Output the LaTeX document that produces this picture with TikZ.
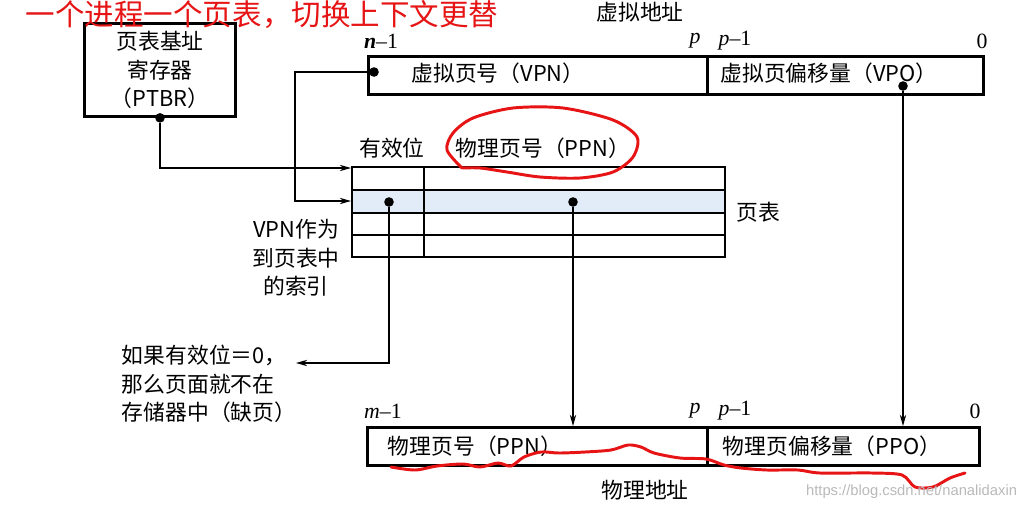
\documentclass[tikz,border=0pt]{standalone}
\usepackage{fontspec}
\setmainfont{Liberation Serif}
\newfontfamily\cjk{Noto Sans CJK SC}
\newfontfamily\wmfont{Liberation Sans}
\usetikzlibrary{arrows.meta}
\definecolor{rowblue}{RGB}{226,236,248}
\definecolor{penred}{RGB}{230,20,20}
\begin{document}
\begin{tikzpicture}[x=0.025cm,y=-0.025cm,
  every node/.style={font=\cjk\fontsize{15.5}{20.2}\selectfont},
  field/.style={draw,line width=1.9pt,inner sep=0,anchor=north west,minimum height=0.96cm},
  bitno/.style={font=\rmfamily\fontsize{15.5}{18}\selectfont},
  dot/.style={circle,fill,inner sep=0,minimum size=0.24cm},
  arr/.style={line width=1pt,-{Stealth[length=8pt,width=4.5pt]}},
  frame/.style={line width=1.9pt},
  redpen/.style={draw=penred,line width=2.1pt,line cap=round,line join=round}]
\useasboundingbox (0,0) rectangle (1029,509);

\node[draw,line width=1.9pt,minimum width=3.775cm,minimum height=2.325cm,align=center] (ptbr) at (160,70) {页表基址\\寄存器\\（PTBR）};
\node[dot] (ptbrdot) at (ptbr.south) {};

\node (valabel) at (640,12) {虚拟地址};
\node[bitno] (vahi) at (381,41) {\textbf{\textit{n}}–1};
\node[bitno] (vap) at (695,41) {\textit{p}};
\node[bitno] (vapm) at (735,41) {\textit{p}–1};
\node[bitno] (valo) at (982,41) {0};
\node[field,minimum width=8.475cm] (vpnbox) at (367,55) {};
\node[field,minimum width=6.9cm] (vpobox) at (706,55) {};
\node (vpn) at (498,73) {虚拟页号（VPN）};
\node (vpo) at (829,73) {虚拟页偏移量（VPO）};
\node[dot] (vpndot) at (374,72) {};
\node[dot] (vpodot) at (903,86) {};

\fill[rowblue] (352,190) rectangle (725,213);
\draw[frame] (352,167) rectangle (725,257);
\foreach \y in {190,213,235}
  \draw[frame] (352,\y) -- (725,\y);
\draw[frame] (424,167) -- (424,257);
\node (validhead) at (392,148) {有效位};
\node (ppnhead) at (543,148) {物理页号（PPN）};
\node (ptlabel) at (758,212) {页表};
\coordinate (pte0) at (351,168);
\coordinate (pte1) at (351,201);
\node[dot] (validdot) at (389,202) {};
\node[dot] (ppndot) at (573,202) {};

\node[align=center] (vpnidx) at (296,258) {VPN作为\\到页表中\\的索引};
\node[align=left,anchor=west] (fault) at (117,384) {如果有效位＝0，\\那么页面就不在\\存储器中（缺页）};
\coordinate (vpnbend) at (295,72);
\coordinate (faultend) at (296,363);

\node[bitno] (pahi) at (383,411) {\textit{m}–1};
\node[bitno] (pap) at (695,411) {\textit{p}};
\node[bitno] (papm) at (735,411) {\textit{p}–1};
\node[bitno] (palo) at (975,411) {0};
\node[field,minimum width=8.5cm] (ppnbox) at (366,426) {};
\node[field,minimum width=6.8cm] (ppobox) at (706,426) {};
\node (ppn) at (475,446) {物理页号（PPN）};
\node (ppo) at (832,446) {物理页偏移量（PPO）};
\node (palabel) at (645,490) {物理地址};

\draw[arr] (ptbrdot) |- (pte0);
\draw[arr] (vpndot) -- (vpnbend) |- (pte1);
\draw[arr] (validdot) |- (faultend);
\draw[arr] (ppndot) -- (ppndot |- ppnbox.north);
\draw[arr] (vpodot) -- (vpodot |- ppobox.north);

\node[text=penred,font=\cjk\fontsize{21}{24}\selectfont] (note) at (262,15) {一个进程一个页表，切换上下文更替};
\draw[redpen] plot[smooth] coordinates {(462,168) (447,150) (453,133) (473,118) (513,108) (563,108) (613,120) (637,137) (633,157) (613,172) (580,178) (540,177) (507,172) (480,168) (462,168)};
\draw[redpen] plot[smooth] coordinates {(391,467) (415,470) (437,466) (463,464) (480,467) (498,463) (511,466) (524,457) (541,452) (559,453) (585,452) (611,450) (628,445) (641,447) (654,453) (680,458) (706,459) (724,465) (741,468) (767,470) (798,470) (820,473) (872,473) (902,475) (915,487) (933,487) (950,478) (965,473)};
\node[text=gray!55,font=\wmfont\fontsize{10.5}{12}\selectfont,anchor=east] (wm) at (1022,492) {https://blog.csdn.net/nanalidaxin};
\end{tikzpicture}
\end{document}
